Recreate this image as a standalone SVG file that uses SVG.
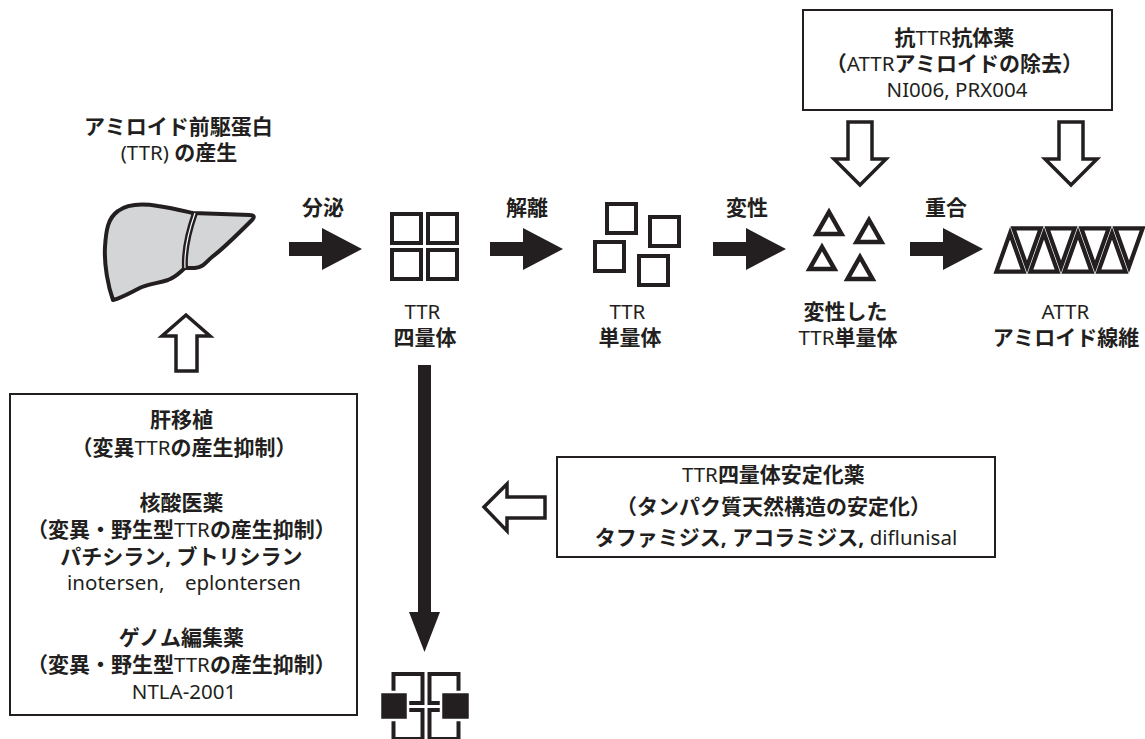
<svg xmlns="http://www.w3.org/2000/svg" xmlns:xlink="http://www.w3.org/1999/xlink" width="1145" height="739" viewBox="0 0 1145 739">
  <style>
    .t { font-family: "Noto Sans", "Noto Sans CJK JP", sans-serif; font-size: 20px; fill: #231f20; text-anchor: middle; }
    .b { font-weight: 700; font-size: 21px; }
    .n { font-weight: 400; font-size: 20.5px; }
    .box { fill: #ffffff; stroke: #231f20; stroke-width: 2; }
    .sq { fill: #ffffff; stroke: #231f20; stroke-width: 4; }
    .tri { fill: #ffffff; stroke: #231f20; stroke-width: 4.5; stroke-linejoin: miter; stroke-miterlimit: 10; }
    .fib { fill: none; stroke: #231f20; stroke-width: 4.2; stroke-linejoin: miter; stroke-miterlimit: 10; }
    .solid { fill: #231f20; stroke: none; }
    .hollow { fill: #ffffff; stroke: #231f20; stroke-width: 3.5; stroke-linejoin: miter; }
  </style>
  <defs>
    <!-- protein subunit drawn as an open square -->
    <rect id="unit" x="0" y="0" width="29" height="29" class="sq"/>
    <!-- misfolded subunit drawn as a triangle -->
    <polygon id="tri" points="0,-13 12.5,9 -12.5,9" class="tri"/>
    <!-- fibril tiles, inset so neighbours show a thin white seam -->
    <polygon id="fibUp" points="0,233.3 13.6,271.6 -13.6,271.6" class="fib"/>
    <polygon id="fibDown" points="0,266.7 13.6,228.4 -13.6,228.4" class="fib"/>
    <!-- bold process arrow pointing right -->
    <path id="bigArrow" d="M0,-7 H33 V-21 L73,0 L33,21 V7 H0 Z" class="solid"/>
    <!-- hollow therapy arrow pointing down -->
    <polygon id="hollowDown" points="0,63 -26,37 -12,37 -12,0 12,0 12,37 26,37" class="hollow"/>
  </defs>

  <rect width="1145" height="739" fill="#ffffff"/>

  <!-- precursor production label -->
  <g id="precursor-label">
    <text class="t">
      <tspan class="b" x="181" y="134">アミロイド前駆蛋白</tspan>
      <tspan x="179" y="160"><tspan class="n">(TTR) </tspan><tspan class="b">の産生</tspan></tspan>
    </text>
  </g>

  <!-- liver -->
  <g id="liver">
    <path d="M113,300 C108,286 104,265 105,247 C106,230 108,218 118,211 C126,205 140,203 158,206 C172,208 184,211 193,213 L250,215 C254,215 255,217 252,220 C240,232 224,248 212,257 C206,262 204,267 195,268 L185,268 C180,272 176,277 168,280 C158,283 150,284 142,287 C133,291 124,297 113,300 Z" fill="#d4d5d7" stroke="#231f20" stroke-width="4" stroke-linejoin="round"/>
    <path d="M195,213 C189,230 184,250 185,268" fill="none" stroke="#231f20" stroke-width="6"/>
    <path d="M195,213 C189,230 184,250 185,268" fill="none" stroke="#ffffff" stroke-width="1.2"/>
  </g>

  <!-- tetramer -->
  <g id="tetramer">
    <use xlink:href="#unit" x="392" y="214"/>
    <use xlink:href="#unit" x="428" y="214"/>
    <use xlink:href="#unit" x="392" y="250"/>
    <use xlink:href="#unit" x="428" y="250"/>
    <text class="t">
      <tspan class="n" x="425" y="319">TTR</tspan>
      <tspan class="b" x="425" y="345">四量体</tspan>
    </text>
  </g>

  <!-- monomers -->
  <g id="monomer">
    <use xlink:href="#unit" x="607" y="204"/>
    <use xlink:href="#unit" x="650" y="217"/>
    <use xlink:href="#unit" x="595" y="242"/>
    <use xlink:href="#unit" x="639" y="256"/>
    <text class="t">
      <tspan class="n" x="630" y="319">TTR</tspan>
      <tspan class="b" x="630" y="345">単量体</tspan>
    </text>
  </g>

  <!-- misfolded monomers -->
  <g id="misfolded">
    <use xlink:href="#tri" x="829" y="225"/>
    <use xlink:href="#tri" x="869" y="233"/>
    <use xlink:href="#tri" x="822" y="260"/>
    <use xlink:href="#tri" x="860" y="270"/>
    <text class="t">
      <tspan class="b" x="848" y="319">変性した</tspan>
      <tspan x="848" y="345"><tspan class="n">TTR</tspan><tspan class="b">単量体</tspan></tspan>
    </text>
  </g>

  <!-- amyloid fibril -->
  <g id="fibril">
    <use xlink:href="#fibUp" x="1010"/>
    <use xlink:href="#fibUp" x="1044"/>
    <use xlink:href="#fibUp" x="1078"/>
    <use xlink:href="#fibUp" x="1112"/>
    <use xlink:href="#fibDown" x="1027"/>
    <use xlink:href="#fibDown" x="1061"/>
    <use xlink:href="#fibDown" x="1095"/>
    <use xlink:href="#fibDown" x="1129"/>
    <text class="t">
      <tspan class="n" x="1068" y="319">ATTR</tspan>
      <tspan class="b" x="1066" y="345">アミロイド線維</tspan>
    </text>
  </g>

  <!-- stabilised tetramer with bound drug -->
  <g id="stabilized-tetramer">
    <use xlink:href="#unit" x="393.5" y="674"/>
    <use xlink:href="#unit" x="429.5" y="674"/>
    <use xlink:href="#unit" x="393.5" y="710"/>
    <use xlink:href="#unit" x="429.5" y="710"/>
    <rect x="380" y="692" width="28" height="28" fill="#231f20" stroke="#ffffff" stroke-width="2.5"/>
    <rect x="441" y="692" width="29" height="28" fill="#231f20" stroke="#ffffff" stroke-width="2.5"/>
  </g>

  <!-- antibody therapy box -->
  <g id="box-antibody">
    <rect class="box" x="803" y="10" width="309" height="100"/>
    <text class="t">
      <tspan x="957" y="45"><tspan class="b">抗</tspan><tspan class="n">TTR</tspan><tspan class="b">抗体薬</tspan></tspan>
      <tspan x="957" y="71"><tspan class="b">（</tspan><tspan class="n">ATTR</tspan><tspan class="b">アミロイドの除去）</tspan></tspan>
      <tspan class="n" x="957" y="97">NI006, PRX004</tspan>
    </text>
  </g>

  <!-- tetramer stabiliser box -->
  <g id="box-stabilizer">
    <rect class="box" x="557" y="457" width="438" height="100"/>
    <text class="t">
      <tspan x="776" y="482"><tspan class="n">TTR</tspan><tspan class="b">四量体安定化薬</tspan></tspan>
      <tspan class="b" x="776" y="514">（タンパク質天然構造の安定化）</tspan>
      <tspan x="776" y="545"><tspan class="b">タファミジス, アコラミジス, </tspan><tspan class="n">diflunisal</tspan></tspan>
    </text>
  </g>

  <!-- production suppression box -->
  <g id="box-production">
    <rect class="box" x="10" y="394" width="347" height="321"/>
    <text class="t">
      <tspan class="b" x="184" y="427">肝移植</tspan>
      <tspan x="184" y="455"><tspan class="b">（変異</tspan><tspan class="n">TTR</tspan><tspan class="b">の産生抑制）</tspan></tspan>
    </text>
    <text class="t">
      <tspan class="b" x="184" y="510">核酸医薬</tspan>
      <tspan x="184" y="537"><tspan class="b">（変異・野生型</tspan><tspan class="n">TTR</tspan><tspan class="b">の産生抑制）</tspan></tspan>
      <tspan class="b" x="184" y="564">パチシラン, ブトリシラン</tspan>
      <tspan class="n" x="184" y="590">inotersen,　eplontersen</tspan>
    </text>
    <text class="t">
      <tspan class="b" x="184" y="645">ゲノム編集薬</tspan>
      <tspan x="184" y="672"><tspan class="b">（変異・野生型</tspan><tspan class="n">TTR</tspan><tspan class="b">の産生抑制）</tspan></tspan>
      <tspan class="n" x="184" y="699">NTLA-2001</tspan>
    </text>
  </g>

  <!-- connectors -->
  <g id="connectors">
    <use xlink:href="#bigArrow" x="289" y="249"/>
    <text class="t b" x="323" y="215">分泌</text>
    <use xlink:href="#bigArrow" x="490" y="249"/>
    <text class="t b" x="527" y="215">解離</text>
    <use xlink:href="#bigArrow" x="713" y="249"/>
    <text class="t b" x="747" y="215">変性</text>
    <use xlink:href="#bigArrow" x="910" y="249"/>
    <text class="t b" x="946" y="215">重合</text>

    <!-- dissociation blocked: tetramer stays intact -->
    <path d="M418,365 H431 V612 H440 L424.5,652 L409,612 H418 Z" class="solid"/>

    <!-- hollow therapy arrows -->
    <polygon points="186,315 162,336 176,336 176,371 197,371 197,336 210,336" class="hollow"/>
    <use xlink:href="#hollowDown" x="860" y="122"/>
    <use xlink:href="#hollowDown" x="1071" y="122"/>
    <polygon points="484,507 507,484 507,497 545,497 545,518 507,518 507,531" class="hollow"/>
  </g>
</svg>
